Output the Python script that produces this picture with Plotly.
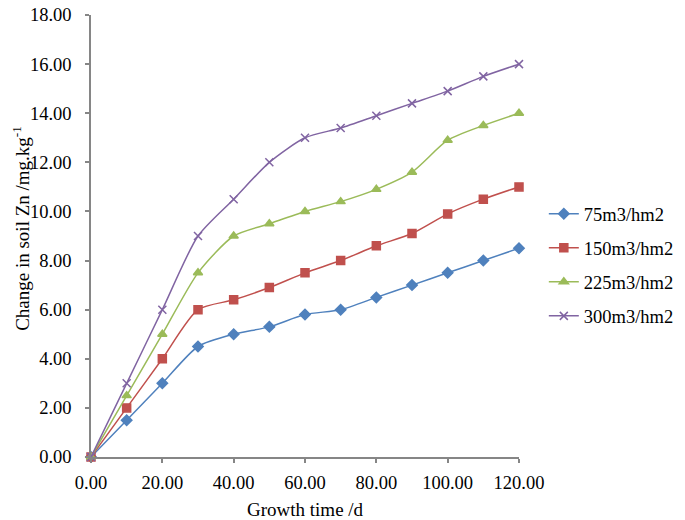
import plotly.graph_objects as go

days = [0, 10, 20, 30, 40, 50, 60, 70, 80, 90, 100, 110, 120]
s75 = [0, 1.5, 3.0, 4.5, 5.0, 5.3, 5.8, 6.0, 6.5, 7.0, 7.5, 8.0, 8.5]
s150 = [0, 2.0, 4.0, 6.0, 6.4, 6.9, 7.5, 8.0, 8.6, 9.1, 9.9, 10.5, 11.0]
s225 = [0, 2.5, 5.0, 7.5, 9.0, 9.5, 10.0, 10.4, 10.9, 11.6, 12.9, 13.5, 14.0]
s300 = [0, 3.0, 6.0, 9.0, 10.5, 12.0, 13.0, 13.4, 13.9, 14.4, 14.9, 15.5, 16.0]
names = ["75m3/hm2", "150m3/hm2", "225m3/hm2", "300m3/hm2"]
colors = ["#4F81BD", "#C0504D", "#9BBB59", "#8064A2"]
symbols = ["diamond", "square", "triangle-up", "x-thin-open"]
sizes = [8, 8, 8, 8]

fig = go.Figure()
for i, (name, ys, c, sym, sz) in enumerate(zip(names, [s75, s150, s225, s300], colors, symbols, sizes)):
    fig.add_trace(go.Scatter(
        x=days, y=ys, name=name, mode="lines+markers", legendgroup=f"g{i}",
        line=dict(color=c, width=1.5, shape="spline", smoothing=0.7),
        marker=dict(symbol=sym, size=sz, color=c, line=dict(color=c, width=1.5)),
        cliponaxis=False,
    ))

font_family = "Liberation Serif"
axis_common = dict(showgrid=False, zeroline=False, showline=True,
                   linecolor="#868686", linewidth=1.5, ticks="outside",
                   ticklen=4, tickcolor="#868686", tickwidth=1.5,
                   tickformat=".2f", automargin=False, ticklabeloverflow="allow",
                   tickfont=dict(size=18.5, family=font_family))
# page body has an 8px default margin, so the figure is sized to fit inside it
fig.update_layout(
    width=677, height=512,
    margin=dict(l=83, r=166, t=7, b=63, autoexpand=False),
    paper_bgcolor="white", plot_bgcolor="white",
    font=dict(family=font_family, size=19, color="black"),
    showlegend=True,
    legend=dict(x=1.058, y=0.434, xanchor="left", yanchor="middle",
                font=dict(size=18.5, family=font_family), tracegroupgap=7, itemwidth=30,
                bgcolor="rgba(0,0,0,0)"),
    xaxis=dict(range=[0, 120], tickvals=[0, 20, 40, 60, 80, 100, 120],
               ticklabelstandoff=4, **axis_common),
    yaxis=dict(range=[0, 18], tickvals=[0, 2, 4, 6, 8, 10, 12, 14, 16, 18],
               ticklabelstandoff=10, **axis_common),
    annotations=[
        dict(text="Growth time /d", xref="paper", yref="paper", x=0.5, y=-0.118,
             xanchor="center", yanchor="middle", showarrow=False,
             font=dict(size=19, family=font_family)),
        dict(text="Change in soil Zn /mg.kg<sup>-1</sup>", xref="paper", yref="paper",
             x=-0.164, y=0.518, xanchor="center", yanchor="middle", textangle=-90,
             showarrow=False, font=dict(size=19, family=font_family)),
    ],
)

fig.write_html("out.html")
